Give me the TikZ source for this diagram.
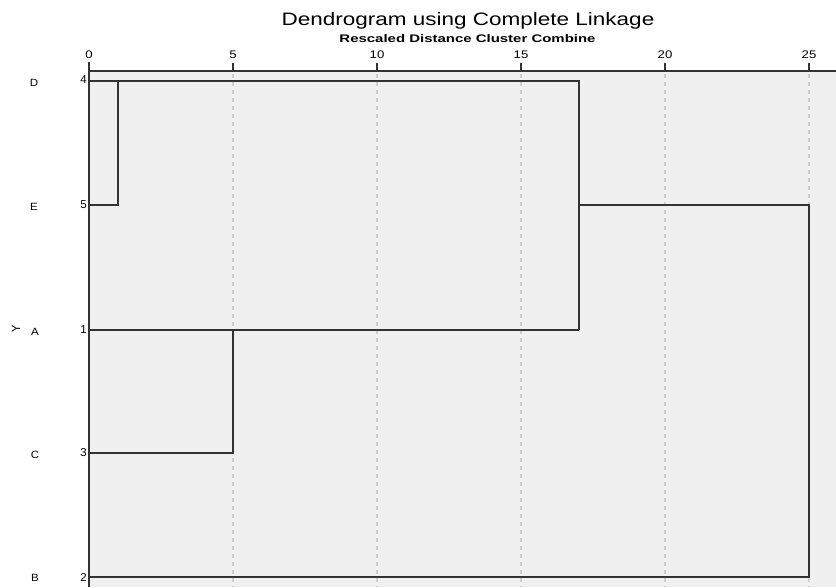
\documentclass[tikz,border=0pt]{standalone}
\usepackage{fontspec}
\setmainfont{Liberation Sans}
\definecolor{bgc}{HTML}{F0F0F0}
\definecolor{gridc}{HTML}{CFCFCF}
\definecolor{linec}{HTML}{333333}
\begin{document}
\begin{tikzpicture}[x=1pt,y=-1pt,
  dend/.style={draw=linec,line width=1.8pt},
  axisline/.style={draw=linec,line width=1.8pt},
  gridline/.style={draw=gridc,line width=1.2pt,dash pattern=on 4pt off 4pt},
  ticklab/.style={font=\fontsize{11}{13}\selectfont,inner sep=0pt,xscale=1.2},
  rowlab/.style={font=\fontsize{10.5}{12}\selectfont,inner sep=0pt,xscale=1.1},
  numlab/.style={font=\fontsize{11.5}{13}\selectfont,inner sep=0pt,anchor=east}]
\useasboundingbox (0,0) rectangle (836,587);
\fill[white] (0,0) rectangle (836,587);
\fill[bgc] (89,71) rectangle (836,587);
% grid
\foreach \v in {5,10,15,20,25} {
  \draw[gridline] ({89+28.8*\v},74) -- ({89+28.8*\v},587);
}
% axes
\draw[axisline] (89,71) -- (836,71);
\draw[axisline] (89,62) -- (89,587);
\foreach \v in {0,5,10,15,20,25} {
  \draw[axisline] ({89+28.8*\v},71) -- ({89+28.8*\v},63);
  \node[ticklab] (t\v) at ({89+28.8*\v},55) {\v};
}
% titles
\node[font=\fontsize{18}{20}\selectfont,inner sep=0pt,anchor=base,xscale=1.25] (title) at (468,25) {Dendrogram using Complete Linkage};
\node[font=\bfseries\fontsize{11}{13}\selectfont,inner sep=0pt,anchor=base,xscale=1.36] (sub) at (467.5,42.5) {Rescaled Distance Cluster Combine};
% row labels
\node[rowlab] (lD) at (34,83) {D};
\node[rowlab] (lE) at (34,207) {E};
\node[rowlab] (lA) at (35,332) {A};
\node[rowlab] (lC) at (35,455) {C};
\node[rowlab] (lB) at (35,578) {B};
\node[font=\fontsize{11}{13}\selectfont,inner sep=0pt,rotate=90,yscale=1.1] (ly) at (16,329) {Y};
\node[numlab] (n4) at (87,80) {4};
\node[numlab] (n5) at (87,205) {5};
\node[numlab] (n1) at (87,330) {1};
\node[numlab] (n3) at (87,453) {3};
\node[numlab] (n2) at (87,577) {2};
% leaf coordinates
\coordinate (D0) at (89,81);
\coordinate (E0) at (89,205);
\coordinate (A0) at (89,330);
\coordinate (C0) at (89,453);
\coordinate (B0) at (89,577);
% merge points
\coordinate (DEtop) at (118,81);
\coordinate (DEbot) at (118,205);
\coordinate (ACtop) at (233,330);
\coordinate (ACbot) at (233,453);
\coordinate (Mtop) at (579,81);
\coordinate (Mmid) at (579,205);
\coordinate (Mbot) at (579,330);
\coordinate (Rtop) at (809,205);
\coordinate (Rbot) at (809,577);
% dendrogram
\draw[dend] (D0) -- (DEtop) -- (Mtop) -- (Mbot);
\draw[dend] (E0) -- (DEbot) -- (DEtop);
\draw[dend] (A0) -- (ACtop) -- (Mbot);
\draw[dend] (C0) -- (ACbot) -- (ACtop);
\draw[dend] (Mmid) -- (Rtop) -- (Rbot) -- (B0);
\end{tikzpicture}
\end{document}
